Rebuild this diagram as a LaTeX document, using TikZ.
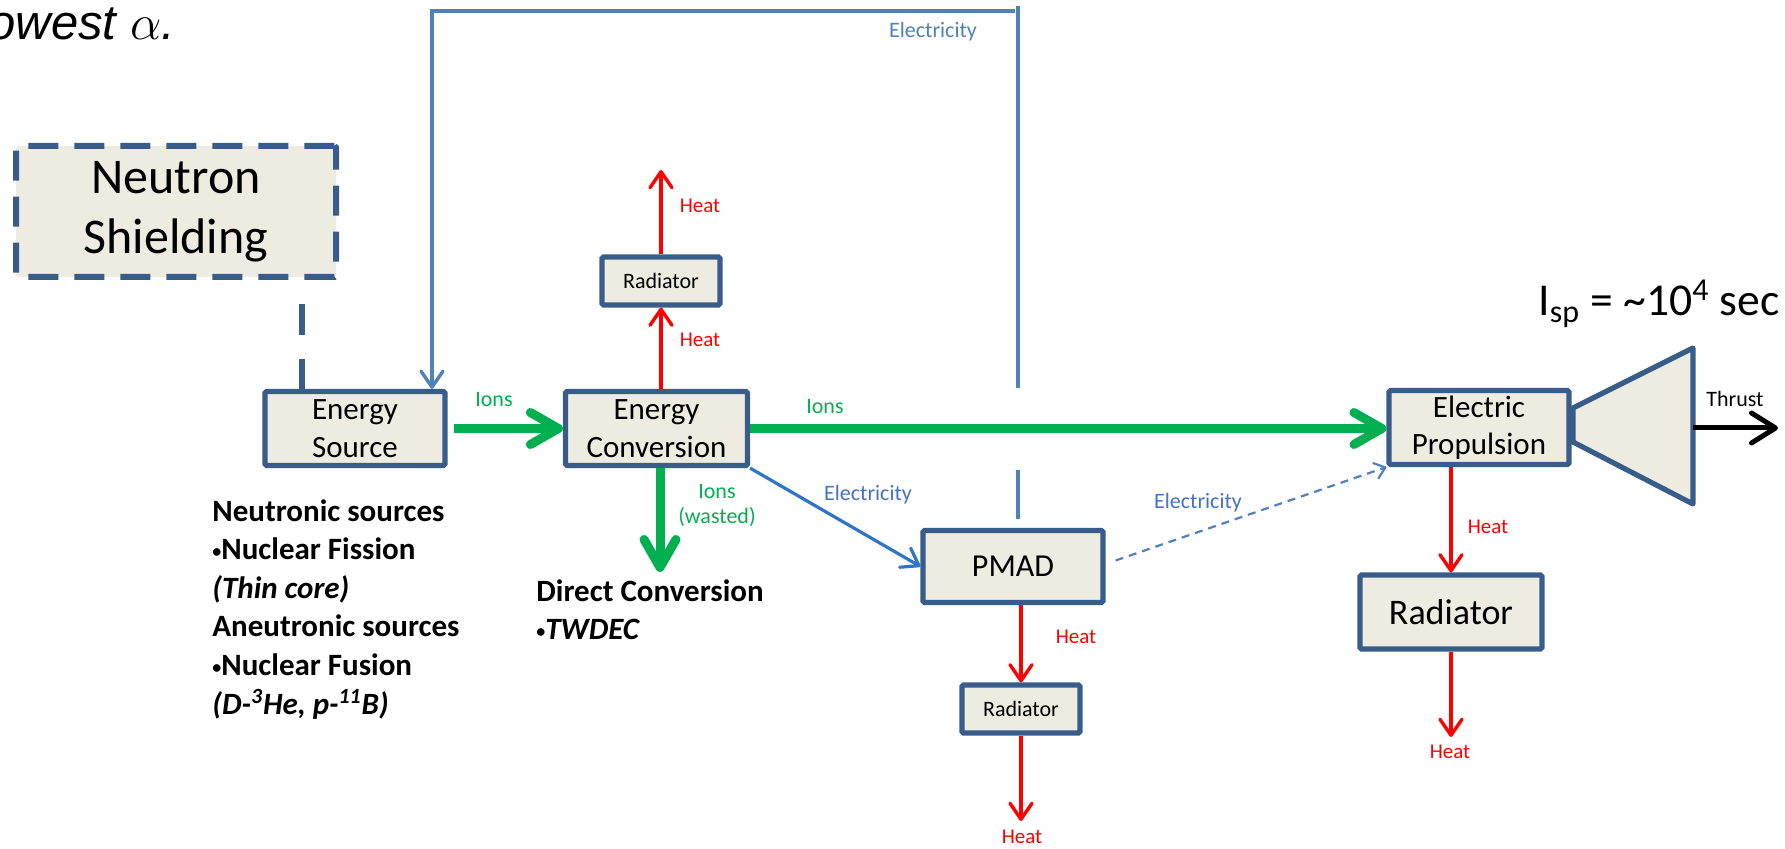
\documentclass[tikz,border=0pt]{standalone}
\usepackage{fontspec}
\setmainfont{Carlito}
\newfontfamily\arialfont{Liberation Sans}
\usetikzlibrary{arrows.meta}
\definecolor{boxfill}{HTML}{EEECE1}
\definecolor{boxline}{HTML}{385D8A}
\definecolor{ongreen}{HTML}{00B050}
\definecolor{onred}{HTML}{FF0000}
\definecolor{loopblue}{HTML}{4F81BD}
\definecolor{elecblue}{HTML}{2E75C4}
\definecolor{lblblue}{HTML}{4472C4}
\newcommand\smallbul{{\fontsize{9pt}{10pt}\selectfont\raisebox{0.9pt}{•}}}
\begin{document}
\begin{tikzpicture}[x=0.5pt,y=-0.5pt,
  box/.style={draw=boxline, fill=boxfill, line width=2.6pt, inner sep=0pt, align=center, rounded corners=0.8pt},
  mainbox/.style={box, font=\fontsize{15.5}{18.7}\selectfont, minimum width=90pt, minimum height=37pt},
  smallrad/.style={box, font=\fontsize{11}{13}\selectfont, minimum width=59pt, minimum height=24pt},
  heatarrow/.style={draw=onred, line width=1.7pt, -{Straight Barb[length=8pt,width=11pt,round]}},
  greenarrow/.style={draw=ongreen, line width=4.5pt, -{Straight Barb[length=14pt,width=16pt,round]}},
  elecarrow/.style={draw=elecblue, line width=1.6pt, -{Straight Barb[length=8pt,width=11pt,round]}},
  loopline/.style={draw=loopblue, line width=1.7pt},
  dasharrow/.style={draw=loopblue, line width=1.1pt, dash pattern=on 4pt off 3pt, -{Straight Barb[length=5pt,width=8pt,round]}},
  heatlbl/.style={text=onred, font=\fontsize{10.5}{12}\selectfont, inner sep=0pt},
  ionlbl/.style={text=ongreen, font=\fontsize{11}{12.5}\selectfont, inner sep=0pt, align=center},
  eleclbl/.style={text=lblblue, font=\fontsize{11}{13}\selectfont, inner sep=0pt},
  blocktext/.style={anchor=north west, inner sep=0pt, align=left, font=\bfseries\fontsize{15.5}{19.3}\selectfont}
]
\useasboundingbox (0,0) rectangle (1785,849);

% title fragment
\node[anchor=base west, inner sep=0pt, font=\arialfont\itshape\fontsize{24.5}{28}\selectfont] (lowest) at (-12,40) {owest $\alpha$.};

% nodes
\node[box, dash pattern=on 15pt off 8pt, line width=3pt, minimum width=160pt, minimum height=65.5pt,
      font=\fontsize{25}{30}\selectfont] (ns) at (176,211.5) {Neutron\\Shielding};
\coordinate (slx) at (302,389);
\draw[draw=boxline, line width=3.3pt, dash pattern=on 15.5pt off 12pt, dash phase=15.5pt] (ns.south -| slx) -- (slx);

\node[mainbox] (es) at (355,428.5) {Energy\\Source};
\node[mainbox, minimum width=91pt] (ec) at (656.5,428.5) {Energy\\Conversion};
\node[smallrad] (radtop) at (661,281) {Radiator};
\node[mainbox, minimum height=36pt, font=\fontsize{16}{19}\selectfont] (pmad) at (1013,566.5) {PMAD};
\node[smallrad] (radpm) at (1021,709) {Radiator};

% nozzle
\draw[draw=boxline, fill=boxfill, line width=2.6pt, line join=round] (1573,408) -- (1693,348) -- (1693,504) -- (1573,442) -- cycle;
\node[mainbox] (ep) at (1479,427.5) {Electric\\Propulsion};
\node[box, minimum width=91pt, minimum height=37pt, font=\fontsize{18}{21}\selectfont] (radr) at (1451,612) {Radiator};

% electricity loop
\coordinate (topL) at (432,11);
\coordinate (topR) at (1015,11);
\coordinate (rvTop) at (1018,6);
\coordinate (rvA) at (1018,388);
\coordinate (rvB) at (1018,470);
\coordinate (rvC) at (1018,519);
\draw[loopline, -{Straight Barb[length=8pt,width=11pt,round]}] (topR) -- (topL) -- (topL |- es.north);
\draw[loopline] (rvTop) -- (rvA);
\draw[loopline] (rvB) -- (rvC);
\node[eleclbl, text=loopblue] (elecTop) at (933,32) {Electricity};

% ions
\draw[greenarrow, shorten <=3pt] (es.east) -- (ec.west);
\node[ionlbl] (ions1) at (494,400) {Ions};
\draw[greenarrow] (ec.east) -- (ec.east -| ep.west);
\node[ionlbl] (ions2) at (825,407) {Ions};
\coordinate (wasteEnd) at (660,572);
\draw[greenarrow] (ec.south -| wasteEnd) -- (wasteEnd);
\node[ionlbl] (ions3) at (717,505) {Ions\\(wasted)};

% heat from conversion
\coordinate (heatTop) at (661,170);
\draw[heatarrow] (radtop.south |- ec.north) -- (radtop.south);
\draw[heatarrow] (radtop.north) -- (heatTop);
\node[heatlbl] (h1) at (700,206) {Heat};
\node[heatlbl] (h2) at (700,340) {Heat};

% electricity to PMAD
\draw[elecarrow] (ec.south east) -- (pmad.west);
\node[eleclbl] (elec2) at (868,495) {Electricity};
\draw[dasharrow] ([shift={(5pt,3pt)}]pmad.east) -- (ep.south west);
\node[eleclbl] (elec3) at (1198,503) {Electricity};

% PMAD heat
\coordinate (heatPM) at (1021,821);
\draw[heatarrow] (radpm.north |- pmad.south) -- (radpm.north);
\draw[heatarrow] (radpm.south) -- (heatPM);
\node[heatlbl] (h3) at (1076,637) {Heat};
\node[heatlbl] (h4) at (1022,837) {Heat};

% EP heat
\coordinate (heatR) at (1451,737);
\draw[heatarrow] (radr.north |- ep.south) -- (radr.north);
\draw[heatarrow] (radr.south) -- (heatR);
\node[heatlbl] (h5) at (1488,527) {Heat};
\node[heatlbl] (h6) at (1450,752) {Heat};

% thrust
\coordinate (nozR) at (1693,428);
\coordinate (thrustEnd) at (1778,428);
\draw[line width=2.5pt, -{Straight Barb[length=12pt,width=15pt,round]}] (nozR) -- (thrustEnd);
\node[inner sep=0pt, font=\fontsize{11}{13}\selectfont] (thrust) at (1735,399) {Thrust};

\node[anchor=base west, inner sep=0pt, font=\fontsize{22.8}{26}\selectfont] (isp) at (1538,316) {I\textsubscript{sp} = \symbol{126}10\textsuperscript{4} sec};

% text blocks
\node[blocktext] (neutr) at (212,499) {Neutronic sources\\\smallbul Nuclear Fission\\\textit{(Thin core)}\\Aneutronic sources\\\smallbul Nuclear Fusion\\\textit{(D-\textsuperscript{3}He, p-\textsuperscript{11}B)}};
\node[blocktext] (direct) at (536,579) {Direct Conversion\\\smallbul\textit{TWDEC}};
\end{tikzpicture}
\end{document}
